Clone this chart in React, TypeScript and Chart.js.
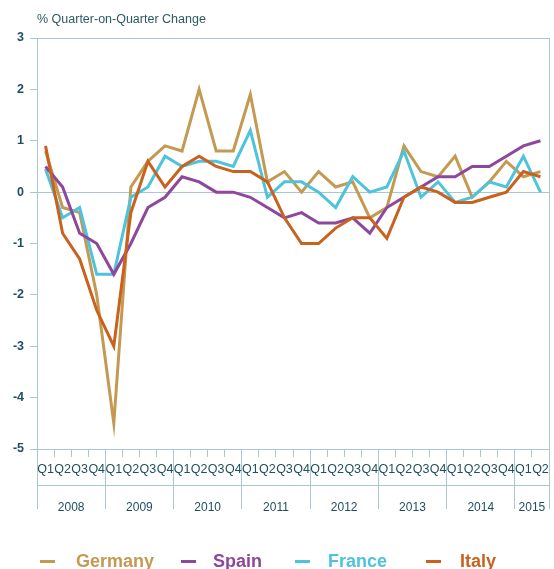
import React, { useEffect, useRef } from 'react';
import { Chart, registerables } from 'chart.js';

Chart.register(...registerables);

// ---- data ----
const quarterLabels = [
  'Q1', 'Q2', 'Q3', 'Q4', 'Q1', 'Q2', 'Q3', 'Q4', 'Q1', 'Q2', 'Q3', 'Q4',
  'Q1', 'Q2', 'Q3', 'Q4', 'Q1', 'Q2', 'Q3', 'Q4', 'Q1', 'Q2', 'Q3', 'Q4',
  'Q1', 'Q2', 'Q3', 'Q4', 'Q1', 'Q2',
];
const yearLabels = ['2008', '2009', '2010', '2011', '2012', '2013', '2014', '2015'];
const quartersPerYear = [4, 4, 4, 4, 4, 4, 4, 2];

const germany = [0.8, -0.3, -0.4, -2.0, -4.5, 0.1, 0.6, 0.9, 0.8, 2.0, 0.8, 0.8, 1.9, 0.2, 0.4, 0.0, 0.4, 0.1, 0.2, -0.5, -0.3, 0.9, 0.4, 0.3, 0.7, -0.1, 0.2, 0.6, 0.3, 0.4];
const spain = [0.5, 0.1, -0.8, -1.0, -1.6, -1.0, -0.3, -0.1, 0.3, 0.2, 0.0, 0.0, -0.1, -0.3, -0.5, -0.4, -0.6, -0.6, -0.5, -0.8, -0.3, -0.1, 0.1, 0.3, 0.3, 0.5, 0.5, 0.7, 0.9, 1.0];
const france = [0.45, -0.5, -0.3, -1.6, -1.6, -0.1, 0.1, 0.7, 0.5, 0.6, 0.6, 0.5, 1.2, -0.1, 0.2, 0.2, 0.0, -0.3, 0.3, 0.0, 0.1, 0.8, -0.1, 0.2, -0.2, -0.1, 0.2, 0.1, 0.7, 0.0];
const italy = [0.9, -0.8, -1.3, -2.3, -3.0, -0.4, 0.6, 0.1, 0.5, 0.7, 0.5, 0.4, 0.4, 0.2, -0.5, -1.0, -1.0, -0.7, -0.5, -0.5, -0.9, -0.1, 0.1, 0.0, -0.2, -0.2, -0.1, 0.0, 0.4, 0.3];

const seriesNames = ['Germany', 'Spain', 'France', 'Italy'];
const seriesColors = ['#c49a52', '#8e479c', '#4ec3dc', '#c8621e'];
const seriesData = [germany, spain, france, italy];
const seriesOrder = [4, 2, 3, 1];

const yMin = -5;
const yMax = 3;
const titleText = '% Quarter-on-Quarter Change';

// ---- styles ----
const FONT = '"Liberation Sans", Arial, sans-serif';
const gridColor = '#a9c6d1';
const textColor = '#1f4f5e';

// derived year boundaries / centers (in category index units)
const yearBounds: number[] = [];
const yearCenters: number[] = [];
const yearStartIdx: number[] = [];
{
  let acc = 0;
  quartersPerYear.forEach((q) => {
    yearStartIdx.push(acc);
    yearBounds.push(acc - 0.5);
    yearCenters.push(acc - 0.5 + q / 2);
    acc += q;
  });
  yearBounds.push(acc - 0.5);
}

const legendPos = [
  { dash: 40, text: 76 },
  { dash: 181, text: 213 },
  { dash: 295, text: 328 },
  { dash: 426, text: 460 },
];

export default function App() {
  const ref = useRef<HTMLCanvasElement | null>(null);

  useEffect(() => {
    if (!ref.current) return;
    const chart = new Chart(ref.current, {
      type: 'line',
      data: {
        labels: quarterLabels,
        datasets: seriesNames.map((name, k) => ({
          label: name,
          data: seriesData[k],
          borderColor: seriesColors[k],
          backgroundColor: seriesColors[k],
          borderWidth: 3,
          pointRadius: 0,
          tension: 0,
          fill: false,
          order: seriesOrder[k],
          xAxisID: 'x',
          yAxisID: 'y',
        })),
      },
      options: {
        responsive: false,
        animation: false,
        layout: { padding: { top: 38, left: 0, right: 5, bottom: 0 } },
        plugins: {
          legend: { display: false },
          title: { display: false },
          tooltip: { enabled: false },
        },
        scales: {
          x: {
            type: 'category',
            position: 'bottom',
            weight: 0,
            offset: true,
            ticks: {
              autoSkip: false,
              maxRotation: 0,
              minRotation: 0,
              padding: -23,
              color: textColor,
              font: { family: FONT, size: 12.5 },
            },
            grid: {
              offset: true,
              drawOnChartArea: false,
              tickLength: 36,
              color: gridColor,
              tickColor: gridColor,
              tickBorderDash: (ctx: any) =>
                ctx.index === undefined || yearStartIdx.includes(ctx.index) ? [] : [7, 80],
            },
            border: { display: true, color: gridColor },
            afterFit: (s: any) => {
              s.height = 36;
            },
          },
          xYear: {
            type: 'linear',
            position: 'bottom',
            weight: 1,
            min: -0.5,
            max: yearBounds[yearBounds.length - 1],
            afterBuildTicks: (s: any) => {
              s.ticks = [...yearBounds, ...yearCenters]
                .sort((a, b) => a - b)
                .map((v) => ({ value: v }));
            },
            ticks: {
              autoSkip: false,
              maxRotation: 0,
              minRotation: 0,
              padding: -8.5,
              color: textColor,
              font: { family: FONT, size: 12 },
              callback: (v: any) => {
                const k = yearCenters.indexOf(Number(v));
                return k >= 0 ? yearLabels[k] : '';
              },
            },
            grid: {
              drawOnChartArea: false,
              tickLength: 24,
              color: (ctx: any) =>
                ctx.tick && yearCenters.includes(ctx.tick.value) ? 'rgba(0,0,0,0)' : gridColor,
              tickColor: (ctx: any) =>
                ctx.tick && yearCenters.includes(ctx.tick.value) ? 'rgba(0,0,0,0)' : gridColor,
            },
            border: { display: true, color: gridColor },
            afterFit: (s: any) => {
              s.height = 84;
            },
          },
          y: {
            type: 'linear',
            position: 'left',
            min: yMin,
            max: yMax,
            ticks: {
              stepSize: 1,
              padding: 6,
              color: textColor,
              font: { family: FONT, size: 12.5, weight: 'bold' },
            },
            grid: {
              tickLength: 7,
              color: (ctx: any) =>
                ctx.tick && [0, yMin, yMax].includes(ctx.tick.value) ? gridColor : 'rgba(0,0,0,0)',
              tickColor: gridColor,
            },
            border: { display: true, color: gridColor },
            afterFit: (s: any) => {
              s.width = 37;
            },
          },
          yRight: {
            type: 'linear',
            position: 'right',
            min: yMin,
            max: yMax,
            ticks: { display: false },
            grid: { display: false, drawTicks: false },
            border: { display: true, color: gridColor },
            afterFit: (s: any) => {
              s.width = 0;
            },
          },
        },
      } as any,
    });
    return () => chart.destroy();
  }, []);

  return (
    <div
      style={{
        position: 'fixed',
        left: 0,
        top: 0,
        width: 554,
        height: 569,
        overflow: 'hidden',
        background: '#ffffff',
      }}
    >
      <canvas ref={ref} width={554} height={569} style={{ position: 'absolute', left: 0, top: 0 }} />
      <div
        style={{
          position: 'absolute',
          left: 37,
          top: 12.7,
          fontFamily: FONT,
          fontSize: 12.5,
          lineHeight: 1,
          color: '#2d5966',
          whiteSpace: 'nowrap',
        }}
      >
        {titleText}
      </div>
      {seriesNames.map((name, k) => (
        <React.Fragment key={name}>
          <div
            style={{
              position: 'absolute',
              left: legendPos[k].dash,
              top: 559.5,
              width: 15,
              height: 3,
              background: seriesColors[k],
            }}
          />
          <div
            style={{
              position: 'absolute',
              left: legendPos[k].text,
              top: 551.5,
              fontFamily: FONT,
              fontSize: 18,
              fontWeight: 'bold',
              lineHeight: 1,
              color: seriesColors[k],
              whiteSpace: 'nowrap',
            }}
          >
            {name}
          </div>
        </React.Fragment>
      ))}
    </div>
  );
}
